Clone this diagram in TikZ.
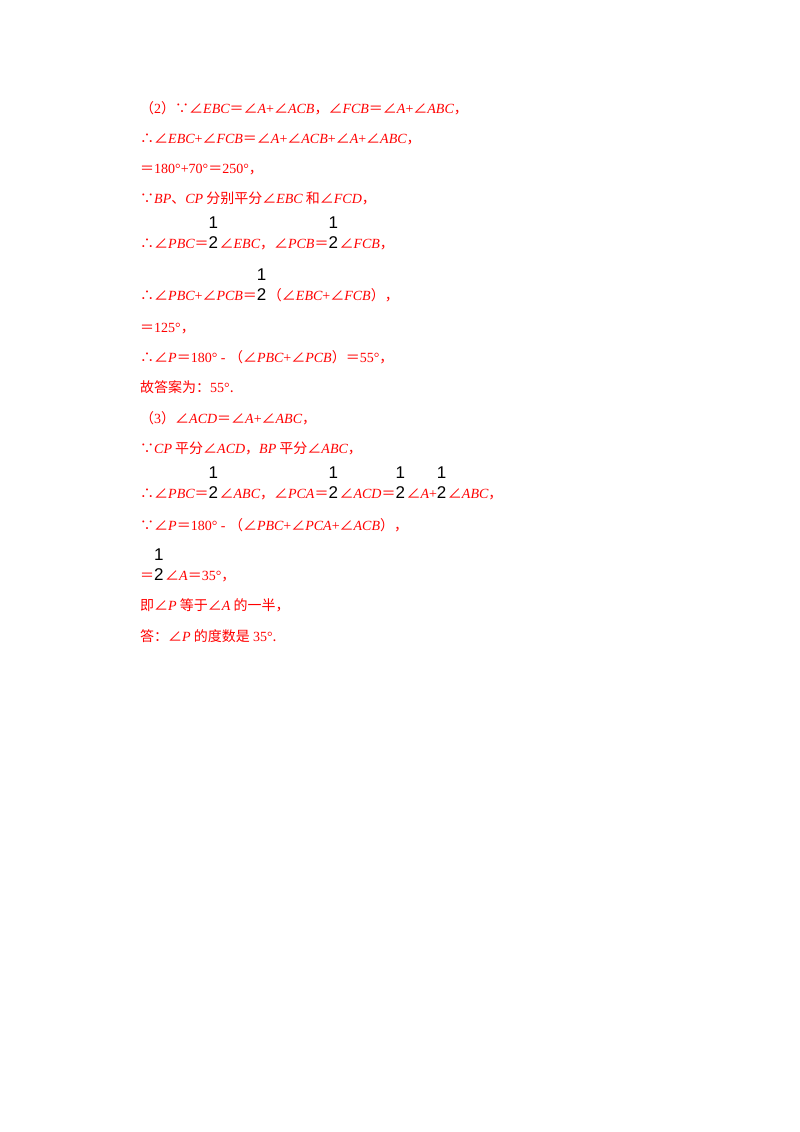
\documentclass[tikz,border=0pt]{standalone}
\usepackage{fontspec}
\setmainfont{Liberation Serif}
\newfontfamily\cjk{Noto Sans CJK SC}
\newfontfamily\frf{Liberation Sans}
\newcommand{\mi}[1]{{\rmfamily\itshape #1}}
\newcommand{\nm}[1]{{\rmfamily #1}}
\newcommand{\fr}{{\color{black}\frf\fontsize{17}{18}\selectfont\makebox[11pt][l]{\rlap{\raisebox{20pt}{1}}2}}}
\newcommand{\A}{∠}
\tikzset{ln/.style={anchor=base west,inner sep=0pt,text=red,font=\cjk\fontsize{14}{15}\selectfont}}
\begin{document}
\begin{tikzpicture}[x=1pt,y=-1pt]
\useasboundingbox (0,0) rectangle (800,1132);
\fill[white] (0,0) rectangle (800,1132);
\node[ln] (l1) at (140,113) {（\nm{2}）∵\A\mi{EBC}＝\A\mi{A}\nm{+}\A\mi{ACB}，\A\mi{FCB}＝\A\mi{A}\nm{+}\A\mi{ABC}，};
\node[ln] (l2) at (140,143) {∴\A\mi{EBC}\nm{+}\A\mi{FCB}＝\A\mi{A}\nm{+}\A\mi{ACB}\nm{+}\A\mi{A}\nm{+}\A\mi{ABC}，};
\node[ln] (l3) at (140,173) {＝\nm{180°+70°}＝\nm{250°}，};
\node[ln] (l4) at (140,203) {∵\mi{BP}、\mi{CP} 分别平分\A\mi{EBC} 和\A\mi{FCD}，};
\node[ln] (l5) at (140,248) {∴\A\mi{PBC}＝\fr\A\mi{EBC}，\A\mi{PCB}＝\fr\A\mi{FCB}，};
\node[ln] (l6) at (140,300) {∴\A\mi{PBC}\nm{+}\A\mi{PCB}＝\fr（\A\mi{EBC}\nm{+}\A\mi{FCB}），};
\node[ln] (l7) at (140,332) {＝\nm{125°}，};
\node[ln] (l8) at (140,362) {∴\A\mi{P}＝\nm{180° - }（\A\mi{PBC}\nm{+}\A\mi{PCB}）＝\nm{55°}，};
\node[ln] (l9) at (140,392) {故答案为：\nm{55°}.};
\node[ln] (l10) at (140,423) {（\nm{3}）\A\mi{ACD}＝\A\mi{A}\nm{+}\A\mi{ABC}，};
\node[ln] (l11) at (140,453) {∵\mi{CP} 平分\A\mi{ACD}，\mi{BP} 平分\A\mi{ABC}，};
\node[ln] (l12) at (140,498) {∴\A\mi{PBC}＝\fr\A\mi{ABC}，\A\mi{PCA}＝\fr\A\mi{ACD}＝\fr\A\mi{A}\nm{+}\fr\A\mi{ABC}，};
\node[ln] (l13) at (140,530) {∵\A\mi{P}＝\nm{180° - }（\A\mi{PBC}\nm{+}\A\mi{PCA}\nm{+}\A\mi{ACB}），};
\node[ln] (l14) at (140,580) {＝\fr\A\mi{A}＝\nm{35°}，};
\node[ln] (l15) at (140,610) {即\A\mi{P} 等于\A\mi{A} 的一半，};
\node[ln] (l16) at (140,641) {答：\A\mi{P} 的度数是 \nm{35°}.};
\end{tikzpicture}
\end{document}
